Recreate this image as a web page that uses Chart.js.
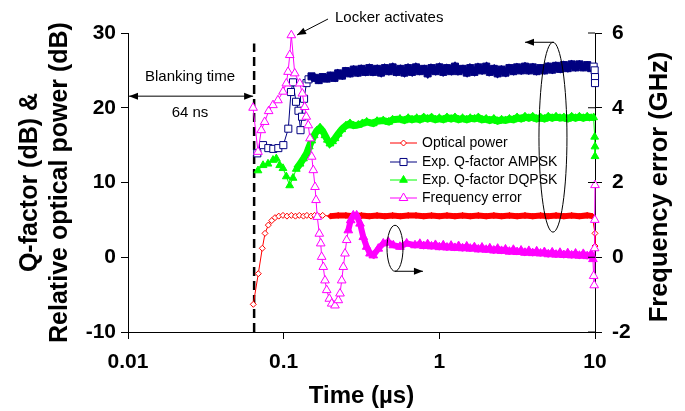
<!DOCTYPE html>
<html>
<head>
<meta charset="utf-8">
<script src="https://cdn.jsdelivr.net/npm/chart.js@4.4.0/dist/chart.umd.min.js"></script>
<style>
  html, body { margin: 0; padding: 0; background: #fff; }
  #wrap { width: 685px; height: 411px; position: relative; }
</style>
</head>
<body>
<div id="wrap"><canvas id="lockerChart"></canvas></div>
<script>
// axis ticks
const xTickValues = [0.01, 0.1, 1, 10];
const xTickLabels = ['0.01', '0.1', '1', '10'];
const leftTickValues = [-10, 0, 10, 20, 30];
const rightTickValues = [-2, 0, 2, 4, 6];
const seriesNames = ['Optical power', 'Exp. Q-factor AMPSK', 'Exp. Q-factor DQPSK', 'Frequency error'];
const blankingEnd = 0.0646; // µs (64 ns)

// [time (µs), dB]
const opticalPower = [
  [0.0638, -6.3], [0.0687, -2.2], [0.0729, 1.2], [0.0759, 3.2], [0.0797, 4.3], [0.0838, 4.9],
  [0.088, 5.3], [0.093, 5.5], [0.099, 5.6], [0.105, 5.5], [0.112, 5.6], [0.119, 5.5],
  [0.126, 5.6], [0.134, 5.5], [0.141, 5.6], [0.15, 5.5], [0.158, 5.6], [0.168, 5.5],
  [0.178, 5.6], [0.2, 5.5], [0.224, 5.6], [0.251, 5.6], [0.282, 5.5], [0.316, 5.6],
  [0.355, 5.5], [0.398, 5.6], [0.447, 5.5], [0.501, 5.6], [0.562, 5.5], [0.631, 5.6],
  [0.708, 5.6], [0.794, 5.5], [0.891, 5.6], [1.0, 5.5], [1.12, 5.6], [1.26, 5.5],
  [1.41, 5.6], [1.58, 5.5], [1.78, 5.6], [2.0, 5.5], [2.24, 5.6], [2.51, 5.5],
  [2.82, 5.6], [3.16, 5.5], [3.55, 5.6], [3.98, 5.5], [4.47, 5.6], [5.01, 5.5],
  [5.62, 5.6], [6.31, 5.5], [7.08, 5.6], [7.94, 5.5], [8.91, 5.6], [9.6, 5.5],
  [10.0, 3.2], [10.0, 1.5]
];

// [time (µs), Q (dB)]
const qAmpsk = [
  [0.0677, 13.9], [0.0737, 15.0], [0.0797, 14.6], [0.0858, 14.5], [0.0924, 14.6], [0.0995, 15.0],
  [0.1071, 17.2], [0.1114, 22.1], [0.1148, 23.4], [0.12, 20.8], [0.1245, 19.6], [0.1283, 17.0],
  [0.1312, 18.8], [0.1352, 21.2], [0.1402, 23.3], [0.1445, 23.8], [0.151, 24.2], [0.159, 24.0],
  [0.168, 23.7], [0.178, 24.1], [0.189, 23.9], [0.2, 24.3], [0.212, 24.0], [0.224, 24.6],
  [0.237, 24.3], [0.251, 24.9], [0.266, 24.6], [0.282, 25.1], [0.299, 24.7], [0.316, 25.2],
  [0.335, 24.8], [0.355, 25.3], [0.376, 24.8], [0.398, 25.2], [0.422, 24.7], [0.447, 25.3],
  [0.473, 24.9], [0.501, 25.4], [0.531, 24.8], [0.562, 25.2], [0.596, 24.7], [0.631, 25.3],
  [0.668, 24.8], [0.708, 25.4], [0.75, 24.9], [0.794, 25.2], [0.841, 24.6], [0.891, 25.3],
  [0.944, 24.9], [1.0, 25.4], [1.06, 24.8], [1.12, 25.3], [1.19, 24.9], [1.26, 25.5],
  [1.33, 24.9], [1.41, 25.2], [1.5, 24.7], [1.58, 25.3], [1.68, 24.8], [1.78, 25.4],
  [1.88, 25.0], [2.0, 25.5], [2.11, 24.8], [2.24, 25.2], [2.37, 24.6], [2.51, 25.1],
  [2.66, 24.7], [2.82, 25.3], [2.99, 24.9], [3.16, 25.4], [3.35, 25.0], [3.55, 25.5],
  [3.76, 25.0], [3.98, 25.4], [4.22, 24.9], [4.47, 25.3], [4.73, 25.0], [5.01, 25.5],
  [5.31, 25.1], [5.62, 25.6], [5.96, 25.2], [6.31, 25.7], [6.68, 25.3], [7.08, 25.8],
  [7.5, 25.4], [7.94, 25.8], [8.41, 25.4], [8.91, 25.7], [9.44, 25.3], [9.8, 25.5],
  [9.95, 25.0], [10.0, 24.1], [10.0, 23.3]
];

const qDqpsk = [
  [0.0684, 11.6], [0.0737, 12.3], [0.0793, 12.5], [0.0854, 13.0], [0.0897, 13.2], [0.0943, 12.3],
  [0.099, 11.9], [0.104, 10.8], [0.1093, 9.6], [0.1148, 10.6], [0.1205, 11.8], [0.1274, 12.5],
  [0.134, 13.2], [0.1406, 13.9], [0.146, 14.8], [0.1514, 15.6], [0.157, 16.3], [0.163, 16.9],
  [0.1711, 17.3], [0.178, 16.9], [0.1843, 16.3], [0.191, 15.7], [0.1984, 15.2], [0.206, 15.5],
  [0.2136, 15.9], [0.224, 16.5], [0.236, 17.1], [0.251, 17.6], [0.2667, 17.9], [0.282, 17.6],
  [0.3016, 17.7], [0.32, 17.9], [0.3415, 18.1], [0.376, 17.9], [0.398, 18.2], [0.4365, 18.3],
  [0.473, 18.1], [0.501, 18.4], [0.5587, 18.5], [0.596, 18.3], [0.631, 18.6], [0.668, 18.4],
  [0.7156, 18.6], [0.75, 18.4], [0.794, 18.7], [0.841, 18.5], [0.891, 18.7], [0.944, 18.4],
  [1.0, 18.6], [1.06, 18.4], [1.12, 18.7], [1.19, 18.5], [1.26, 18.7], [1.33, 18.4],
  [1.41, 18.6], [1.5, 18.4], [1.58, 18.6], [1.68, 18.5], [1.78, 18.7], [1.88, 18.4],
  [2.0, 18.5], [2.11, 18.3], [2.24, 18.5], [2.37, 18.2], [2.51, 18.4], [2.66, 18.3],
  [2.82, 18.5], [2.99, 18.4], [3.16, 18.7], [3.35, 18.5], [3.55, 18.8], [3.76, 18.6],
  [3.98, 18.8], [4.22, 18.5], [4.47, 18.7], [4.73, 18.5], [5.01, 18.8], [5.31, 18.6],
  [5.62, 18.8], [5.96, 18.6], [6.31, 18.7], [6.68, 18.5], [7.08, 18.8], [7.5, 18.6],
  [7.94, 18.8], [8.41, 18.6], [8.91, 18.8], [9.44, 18.6], [9.8, 18.7], [9.95, 16.1],
  [10.0, 14.8], [10.0, 13.5]
];

// [time (µs), GHz]
const freqError = [
  [0.0636, 4.0], [0.0684, 2.82], [0.0718, 3.40], [0.0755, 3.62], [0.0801, 3.91], [0.0854, 4.07],
  [0.0919, 4.2], [0.099, 4.43], [0.104, 4.65], [0.1067, 4.96], [0.1094, 5.41], [0.112, 5.94],
  [0.1178, 4.92], [0.1268, 4.65], [0.1318, 4.38], [0.1365, 4.02], [0.1397, 3.76], [0.1439, 3.53],
  [0.1476, 3.18], [0.1514, 2.69], [0.155, 2.33], [0.159, 1.88], [0.1614, 1.53], [0.1644, 1.08],
  [0.1694, 0.63], [0.173, 0.37], [0.1754, 0.01], [0.1797, -0.26], [0.1843, -0.62], [0.189, -0.88],
  [0.1964, -1.11], [0.2035, -1.24], [0.2136, -1.29], [0.2244, -1.15], [0.2301, -0.97], [0.236, -0.62],
  [0.2416, -0.26], [0.2477, 0.10], [0.254, 0.46], [0.2601, 0.72], [0.2696, 0.99], [0.2801, 1.12],
  [0.2944, 1.12], [0.3094, 0.90], [0.3248, 0.54], [0.3415, 0.28], [0.3586, 0.10], [0.3764, 0.05],
  [0.4055, 0.23], [0.4365, 0.37], [0.4699, 0.41], [0.5061, 0.32], [0.5587, 0.28], [0.6169, 0.37],
  [0.6978, 0.32], [0.75, 0.36], [0.794, 0.30], [0.841, 0.35], [0.891, 0.29], [0.944, 0.33],
  [1.0, 0.27], [1.06, 0.32], [1.12, 0.26], [1.19, 0.31], [1.26, 0.25], [1.33, 0.30],
  [1.41, 0.24], [1.5, 0.29], [1.58, 0.23], [1.68, 0.27], [1.78, 0.21], [1.88, 0.26],
  [2.0, 0.20], [2.11, 0.24], [2.24, 0.18], [2.37, 0.23], [2.51, 0.17], [2.66, 0.21],
  [2.82, 0.15], [2.99, 0.20], [3.16, 0.14], [3.35, 0.18], [3.55, 0.12], [3.76, 0.17],
  [3.98, 0.11], [4.22, 0.16], [4.47, 0.10], [4.73, 0.14], [5.01, 0.08], [5.31, 0.13],
  [5.62, 0.07], [5.96, 0.12], [6.31, 0.06], [6.68, 0.11], [7.08, 0.05], [7.5, 0.10],
  [7.94, 0.04], [8.41, 0.09], [8.91, 0.03], [9.44, 0.08], [9.7, -0.05], [9.8, -0.5],
  [9.88, -0.75], [9.94, 0.24], [9.97, 1.0], [10.0, 1.93]
];

const FONT = 'Liberation Sans, Arial, Helvetica, sans-serif';
Chart.defaults.font.family = FONT;
Chart.defaults.color = '#000';

const toPoints = rows => rows.map(r => ({ x: r[0], y: r[1] }));

// dense part of a trace: markers pile up into a solid band
const inBand = (ctx, from) => ctx.raw && ctx.raw.x >= from && ctx.raw.x < 9.75;
const segBand = (ctx, from, w) => (ctx.p0.parsed.x >= from && ctx.p1.parsed.x < 9.75 ? w : 1);

function series(name, rows, color, style, radius, hollow, bandFrom, bandWidth, axis, order) {
  return {
    label: name,
    data: toPoints(rows),
    yAxisID: axis,
    showLine: true,
    borderColor: color,
    borderWidth: 1,
    pointStyle: style,
    pointRadius: radius,
    pointBorderWidth: 1,
    pointBorderColor: color,
    pointBackgroundColor: ctx => (!hollow || inBand(ctx, bandFrom)) ? color : '#ffffff',
    segment: { borderWidth: ctx => segBand(ctx, bandFrom, bandWidth) },
    legendFill: hollow ? '#ffffff' : color,
    clip: false,
    order: order
  };
}

const datasets = [
  series(seriesNames[0], opticalPower, '#ff0000', 'rectRot', 3, true, 0.2, 6, 'y', 3),
  series(seriesNames[1], qAmpsk, '#000080', 'rect', 5, true, 0.15, 7, 'y', 2),
  series(seriesNames[2], qDqpsk, '#00ff00', 'triangle', 4.5, false, 0.12, 7, 'y', 1),
  series(seriesNames[3], freqError, '#ff00ff', 'triangle', 5, true, 0.26, 6, 'y2', 0)
];

function head(ctx, x, y, dx, dy, len, half) {
  ctx.beginPath();
  ctx.moveTo(x, y);
  ctx.lineTo(x - dx * len - dy * half, y - dy * len + dx * half);
  ctx.lineTo(x - dx * len + dy * half, y - dy * len - dx * half);
  ctx.closePath();
  ctx.fill();
}
function arrow(ctx, x0, y0, x1, y1, both) {
  ctx.beginPath(); ctx.moveTo(x0, y0); ctx.lineTo(x1, y1); ctx.stroke();
  const L = Math.hypot(x1 - x0, y1 - y0), dx = (x1 - x0) / L, dy = (y1 - y0) / L;
  head(ctx, x1, y1, dx, dy, 9, 3.5);
  if (both) head(ctx, x0, y0, -dx, -dy, 9, 3.5);
}
function marker(ctx, style, x, y, r, stroke, fill) {
  ctx.beginPath();
  if (style === 'rect') {
    const s = r * Math.SQRT1_2;
    ctx.rect(x - s, y - s, 2 * s, 2 * s);
  } else if (style === 'rectRot') {
    ctx.moveTo(x, y - r); ctx.lineTo(x + r, y); ctx.lineTo(x, y + r); ctx.lineTo(x - r, y);
    ctx.closePath();
  } else {
    for (let k = 0; k < 3; k++) {
      const a = -Math.PI / 2 + k * 2 * Math.PI / 3;
      const px = x + r * Math.cos(a), py = y + r * Math.sin(a);
      if (k === 0) ctx.moveTo(px, py); else ctx.lineTo(px, py);
    }
    ctx.closePath();
  }
  ctx.fillStyle = fill; ctx.fill();
  ctx.lineWidth = 1; ctx.strokeStyle = stroke; ctx.stroke();
}

const annotations = {
  id: 'annotations',
  beforeDatasetsDraw(chart) {
    const { ctx, chartArea, scales: { x, y } } = chart;
    const bx = x.getPixelForValue(blankingEnd);
    ctx.save();
    ctx.strokeStyle = '#000';
    ctx.lineWidth = 2.5;
    ctx.setLineDash([9, 5]);
    ctx.beginPath();
    ctx.moveTo(bx, chartArea.bottom);
    ctx.lineTo(bx, y.getPixelForValue(28.6));
    ctx.stroke();
    ctx.restore();
  },
  afterDatasetsDraw(chart) {
    const { ctx, chartArea, scales: { x, y, y2 } } = chart;
    ctx.save();
    ctx.strokeStyle = '#000';
    ctx.fillStyle = '#000';
    ctx.lineWidth = 1;

    // blanking window arrow + labels
    const bx = x.getPixelForValue(blankingEnd);
    const by = y.getPixelForValue(21.55);
    arrow(ctx, chartArea.left + 1, by, bx - 1, by, true);
    ctx.font = '15px ' + FONT;
    ctx.textBaseline = 'middle';
    ctx.textAlign = 'left';
    ctx.fillText('Blanking time', 145, 77);
    ctx.textAlign = 'center';
    ctx.fillText('64 ns', 190, 113);

    // locker activates
    ctx.textAlign = 'left';
    ctx.fillText('Locker activates', 335, 18);
    arrow(ctx, 328, 19, 297, 35, false);

    // ellipse marking the Q-factor traces -> left axis
    const ex = x.getPixelForValue(5.37), ey = y.getPixelForValue(16.06);
    const ery = ey - y.getPixelForValue(28.76);
    ctx.beginPath();
    ctx.ellipse(ex, ey, 14, ery, 0, 0, Math.PI * 2);
    ctx.stroke();
    arrow(ctx, ex + 1, ey - ery, x.getPixelForValue(3.55), ey - ery, false);

    // small ellipse on frequency error -> right axis
    const sx = x.getPixelForValue(0.519), sy = y2.getPixelForValue(0.24);
    ctx.beginPath();
    ctx.ellipse(sx, sy, 8, 23, 0, 0, Math.PI * 2);
    ctx.stroke();
    arrow(ctx, sx, sy + 23, x.getPixelForValue(0.785), sy + 23, false);

    // inward tick marks of the right axis
    for (const v of rightTickValues) {
      const py = y2.getPixelForValue(v);
      ctx.beginPath();
      ctx.moveTo(chartArea.right - 7, py);
      ctx.lineTo(chartArea.right, py);
      ctx.stroke();
    }

    // right axis title, read bottom to top like the left one
    ctx.save();
    ctx.translate(660, 187);
    ctx.rotate(-Math.PI / 2);
    ctx.font = 'bold 25.5px ' + FONT;
    ctx.textAlign = 'center';
    ctx.textBaseline = 'middle';
    ctx.fillStyle = '#000';
    ctx.fillText('Frequency error (GHz)', 0, 0);
    ctx.restore();

    // legend
    const rows = [143, 162, 180, 198];
    ctx.font = '14px ' + FONT;
    ctx.textAlign = 'left';
    ctx.textBaseline = 'middle';
    chart.data.datasets.forEach((ds, i) => {
      const ly = rows[i];
      ctx.strokeStyle = ds.borderColor;
      ctx.lineWidth = 1;
      ctx.beginPath(); ctx.moveTo(390, ly); ctx.lineTo(417, ly); ctx.stroke();
      marker(ctx, ds.pointStyle, 403.5, ly, ds.pointRadius, ds.borderColor, ds.legendFill);
      ctx.fillStyle = '#000';
      ctx.fillText(ds.label, 422, ly);
    });
    ctx.restore();
  }
};

const axisGrid = { drawOnChartArea: false, color: '#000', tickLength: 7, tickWidth: 1 };
const tickFont = { size: 21, weight: 'bold', family: FONT };

new Chart(document.getElementById('lockerChart'), {
  type: 'scatter',
  data: { datasets: datasets },
  options: {
    responsive: true,
    maintainAspectRatio: false,
    animation: false,
    devicePixelRatio: 1,
    layout: { padding: { top: 33, left: 0, right: 0, bottom: 0 } },
    plugins: { legend: { display: false }, tooltip: { enabled: false } },
    scales: {
      x: {
        type: 'logarithmic',
        min: 0.01,
        max: 10,
        afterBuildTicks: s => { s.ticks = xTickValues.map(v => ({ value: v })); },
        afterFit: s => { s.height = 79; },
        ticks: {
          font: tickFont, color: '#000', padding: 11, maxRotation: 0,
          callback: v => xTickLabels[xTickValues.indexOf(v)] ?? ''
        },
        grid: axisGrid,
        border: { color: '#000', width: 1 },
        title: {
          display: true, text: 'Time (µs)', color: '#000',
          font: { size: 24, weight: 'bold', family: FONT }, padding: { top: 0, bottom: 0 }
        }
      },
      y: {
        position: 'left',
        min: -10,
        max: 30,
        afterBuildTicks: s => { s.ticks = leftTickValues.map(v => ({ value: v })); },
        afterFit: s => { s.width = 128; },
        ticks: { font: tickFont, color: '#000', padding: 5 },
        grid: axisGrid,
        border: { color: '#000', width: 1 },
        title: {
          display: true, text: ['Q-factor (dB) &', 'Relative optical power (dB)'], color: '#000',
          font: { size: 25, weight: 'bold', family: FONT, lineHeight: 1.2 }, padding: { top: 15, bottom: 0 }
        }
      },
      y2: {
        position: 'right',
        min: -2,
        max: 6,
        afterBuildTicks: s => { s.ticks = rightTickValues.map(v => ({ value: v })); },
        afterFit: s => { s.width = 90; },
        ticks: { font: tickFont, color: '#000', padding: 10 },
        grid: axisGrid,
        border: { color: '#000', width: 1 },
        title: { display: false }
      }
    }
  },
  plugins: [annotations]
});
</script>
</body>
</html>
